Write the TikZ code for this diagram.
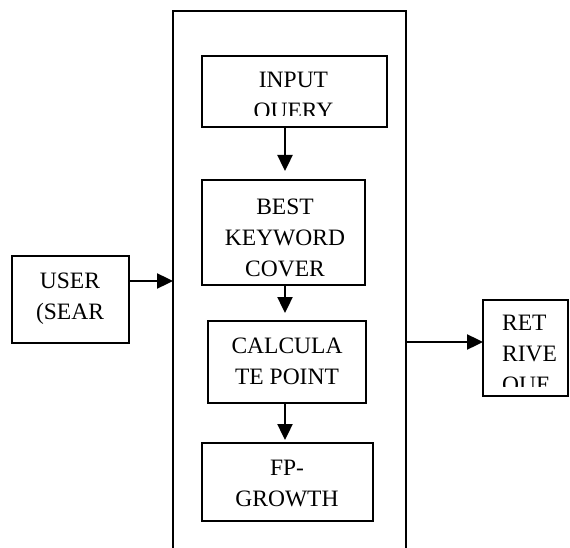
\documentclass[tikz,border=0pt]{standalone}
\usepackage{fontspec}
\setmainfont{Liberation Serif}
\usetikzlibrary{arrows.meta,fit}
\begin{document}
\begin{tikzpicture}[x=1pt,y=-1pt,
  box/.style={draw, line width=1.9pt, inner sep=0pt, outer sep=0pt},
  lbl/.style={font=\fontsize{23.5}{31}\selectfont, align=center, inner sep=0pt},
  arr/.style={line width=2.4pt, -{Triangle[length=16pt,width=15pt]}}]
\useasboundingbox (0,0) rectangle (570,548);
% outer frame (open at the bottom)
\node[fit={(173,11) (406,560)}, inner sep=0pt, outer sep=0pt] (main) {};
\draw[line width=1.9pt] (main.south west) |- (main.north east) -- (main.south east);
% boxes
\node[box, fit={(12,256) (129,343)}] (user) {};
\node[box, fit={(202,56) (387,127)}] (input) {};
\node[box, fit={(202,180) (365,285)}] (best) {};
\node[box, fit={(208,321) (366,403)}] (calc) {};
\node[box, fit={(202,443) (373,521)}] (fp) {};
\node[box, fit={(483,300) (568,396)}] (ret) {};
% labels
\begin{scope}
  \clip (202,56) rectangle (387,115.5);
  \node[lbl] (inputtxt) at (293.5,97) {INPUT\\QUERY};
\end{scope}
\node[lbl] (besttxt) at (285,238) {BEST\\KEYWORD\\COVER};
\node[lbl] (calctxt) at (287,361) {CALCULA\\TE POINT};
\node[lbl] (fptxt) at (287,483) {FP-\\GROWTH};
\node[lbl] (usertxt) at (70,299) {USER\\(SEAR};
\begin{scope}
  \clip (483,300) rectangle (568,386);
  \node[lbl, align=left, anchor=west] (rettxt) at (502,356) {RET\\RIVE\\QUE};
\end{scope}
% connectors
\coordinate (ax) at (285,0);
\coordinate (ay1) at (0,281);
\coordinate (ay2) at (0,342);
\draw[arr, shorten >=9pt] (input.south -| ax) -- (best.north -| ax);
\draw[arr, shorten >=8pt] (best.south -| ax) -- (calc.north -| ax);
\draw[arr, shorten >=3pt] (calc.south -| ax) -- (fp.north -| ax);
\draw[arr] (user.east |- ay1) -- (main.west |- ay1);
\draw[arr] (main.east |- ay2) -- (ret.west |- ay2);
\end{tikzpicture}
\end{document}
